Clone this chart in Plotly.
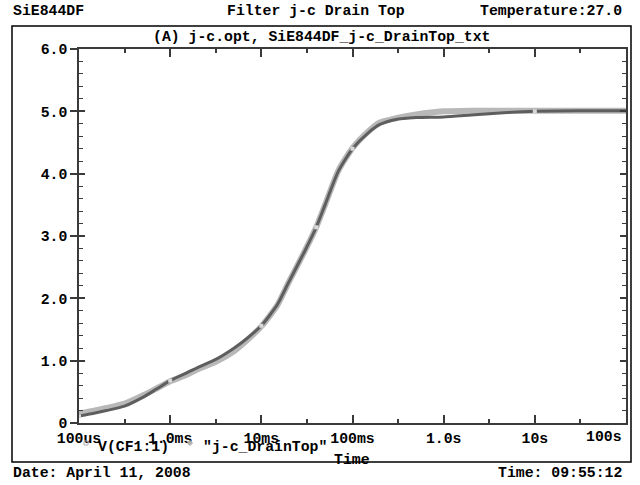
import plotly.graph_objects as go

# ---- data ----
time_s = [1e-4, 1.5e-4, 2e-4, 3.16e-4, 5e-4, 7e-4, 1e-3, 1.5e-3, 2e-3, 3.16e-3,
          5e-3, 7e-3, 1e-2, 1.5e-2, 2e-2, 3e-2, 4e-2, 5e-2, 7e-2, 1e-1,
          1.5e-1, 2e-1, 3e-1, 5e-1, 1, 2, 5, 10, 30, 100]
v_cf1 = [0.11, 0.16, 0.20, 0.27, 0.41, 0.54, 0.68, 0.80, 0.89, 1.02,
         1.20, 1.36, 1.56, 1.90, 2.26, 2.76, 3.14, 3.50, 4.04, 4.40,
         4.66, 4.79, 4.87, 4.90, 4.91, 4.94, 4.98, 5.00, 5.01, 5.01]
jc_drain_top = [0.15, 0.20, 0.24, 0.31, 0.44, 0.55, 0.67, 0.77, 0.86, 0.98,
                1.15, 1.33, 1.55, 1.89, 2.26, 2.76, 3.14, 3.50, 4.05, 4.41,
                4.68, 4.82, 4.89, 4.95, 5.00, 5.01, 5.01, 5.01, 5.01, 5.01]
marker_idx = [0, 6, 12, 16, 19, 27]

x_tickvals = [1e-4, 1e-3, 1e-2, 1e-1, 1, 10, 100]
x_ticktext = ["100us", "1.0ms", "10ms", "100ms", "1.0s", "10s", ""]
x_last_label = "100s"
x_minorvals = [3.16e-4, 3.16e-3, 3.16e-2, 3.16e-1, 3.16, 31.6]
y_tickvals = [0, 1, 2, 3, 4, 5, 6]
y_ticktext = ["0", "1.0", "2.0", "3.0", "4.0", "5.0", "6.0"]

FONT = "Liberation Mono, Courier New, monospace"
FS = 14.8
AX = "#3a3a3a"

fig = go.Figure()
fig.add_trace(go.Scatter(x=time_s, y=jc_drain_top, mode="lines",
                         line=dict(color="#b8b8b8", width=6, shape="spline", smoothing=0.6),
                         showlegend=False, hoverinfo="skip"))
fig.add_trace(go.Scatter(x=time_s, y=v_cf1, mode="lines",
                         line=dict(color="#5e5e5e", width=3, shape="spline", smoothing=0.6),
                         showlegend=False, hoverinfo="skip"))
fig.add_trace(go.Scatter(x=[time_s[i] for i in marker_idx], y=[v_cf1[i] for i in marker_idx],
                         mode="markers", marker=dict(symbol="square", size=4, color="#d8d8d8"),
                         showlegend=False, hoverinfo="skip"))
# helper traces for the extra axes
fig.add_trace(go.Scatter(x=[1e-4], y=[0], yaxis="y2", mode="markers",
                         marker=dict(opacity=0), showlegend=False, hoverinfo="skip"))
fig.add_trace(go.Scatter(x=[1e-4], y=[0], yaxis="y3", mode="markers",
                         marker=dict(opacity=0), showlegend=False, hoverinfo="skip"))

L, R, T, B = 79, 626, 49, 423
W, H = 640, 485

fig.update_layout(
    width=W, height=H,
    margin=dict(l=L, r=W - R, t=T, b=H - B),
    paper_bgcolor="white", plot_bgcolor="white",
    font=dict(family=FONT, size=FS, color="black", weight="bold"),
    xaxis=dict(type="log", range=[-4, 2], showgrid=False, zeroline=False,
               showline=True, linecolor=AX, linewidth=1.5, mirror="ticks",
               ticks="inside", ticklen=8, tickwidth=1.5, tickcolor=AX,
               tickmode="array", tickvals=x_tickvals, ticktext=x_ticktext,
               tickfont=dict(family=FONT, size=FS, color="black", weight="bold"),
               minor=dict(tickmode="array", tickvals=x_minorvals, ticks="inside",
                          ticklen=4, tickwidth=1.5, tickcolor=AX, showgrid=False)),
    yaxis=dict(range=[0, 6], showgrid=False, zeroline=False,
               showline=True, linecolor=AX, linewidth=1.5,
               ticks="outside", ticklen=7, tickwidth=1.5, tickcolor=AX,
               tickmode="array", tickvals=y_tickvals, ticktext=y_ticktext,
               tickfont=dict(family=FONT, size=FS, color="black", weight="bold")),
    yaxis2=dict(range=[0, 6], overlaying="y", side="right", showgrid=False, zeroline=False,
                showline=True, linecolor=AX, linewidth=1.5,
                ticks="inside", ticklen=6, tickwidth=1.5, tickcolor=AX,
                tickmode="array", tickvals=y_tickvals, showticklabels=False,
                minor=dict(dtick=0.2, ticks="inside", ticklen=4, tickwidth=1.2,
                           tickcolor=AX, showgrid=False)),
    yaxis3=dict(range=[0, 6], overlaying="y", side="left", showgrid=False, zeroline=False,
                showline=False, ticks="inside", ticklen=6, tickwidth=1.5, tickcolor=AX,
                tickmode="array", tickvals=y_tickvals, showticklabels=False,
                minor=dict(dtick=0.2, ticks="inside", ticklen=4, tickwidth=1.2,
                           tickcolor=AX, showgrid=False)),
)

def px(x):
    return (x - L) / (R - L)

def py(y):
    return (B - y) / (B - T)

# outer frame
fig.add_shape(type="rect", xref="paper", yref="paper",
              x0=px(12), x1=px(631), y0=py(462), y1=py(26),
              line=dict(color="black", width=1.5), layer="below")

def ann(text, x, y, xanchor="left", size=FS):
    fig.add_annotation(text=text, xref="paper", yref="paper", x=px(x), y=py(y),
                       xanchor=xanchor, yanchor="middle", showarrow=False,
                       font=dict(family=FONT, size=size, color="black", weight="bold"))

ann("SiE844DF", 11, 11)
ann("Filter j-c Drain Top", 316, 11, "center")
ann("Temperature:27.0", 624, 11, "right")
ann("(A) j-c.opt, SiE844DF_j-c_DrainTop_txt", 321, 37, "center")
ann(x_last_label, 624, 437, "right")
ann("V(CF1:1)", 96, 447)
ann("\"j-c_DrainTop\"", 201, 447)
ann("Time", 352, 460, "center")
ann("Date: April 11, 2008", 11, 473)
ann("Time: 09:55:12", 624, 473, "right")

# legend symbols
fig.add_shape(type="rect", xref="paper", yref="paper",
              x0=px(84), x1=px(88), y0=py(445), y1=py(441),
              line=dict(color="#b0b0b0", width=1))
cx, cy = 190, 443
fig.add_shape(type="path", xref="paper", yref="paper",
              path=f"M {px(cx)} {py(cy-2.5)} L {px(cx+2.5)} {py(cy)} L {px(cx)} {py(cy+2.5)} L {px(cx-2.5)} {py(cy)} Z",
              fillcolor="#b0b0b0", line=dict(color="#b0b0b0", width=1))

fig.write_html("out.html", config={"displayModeBar": False},
               post_script="document.body.style.margin='0px';document.body.style.overflow='hidden';")
